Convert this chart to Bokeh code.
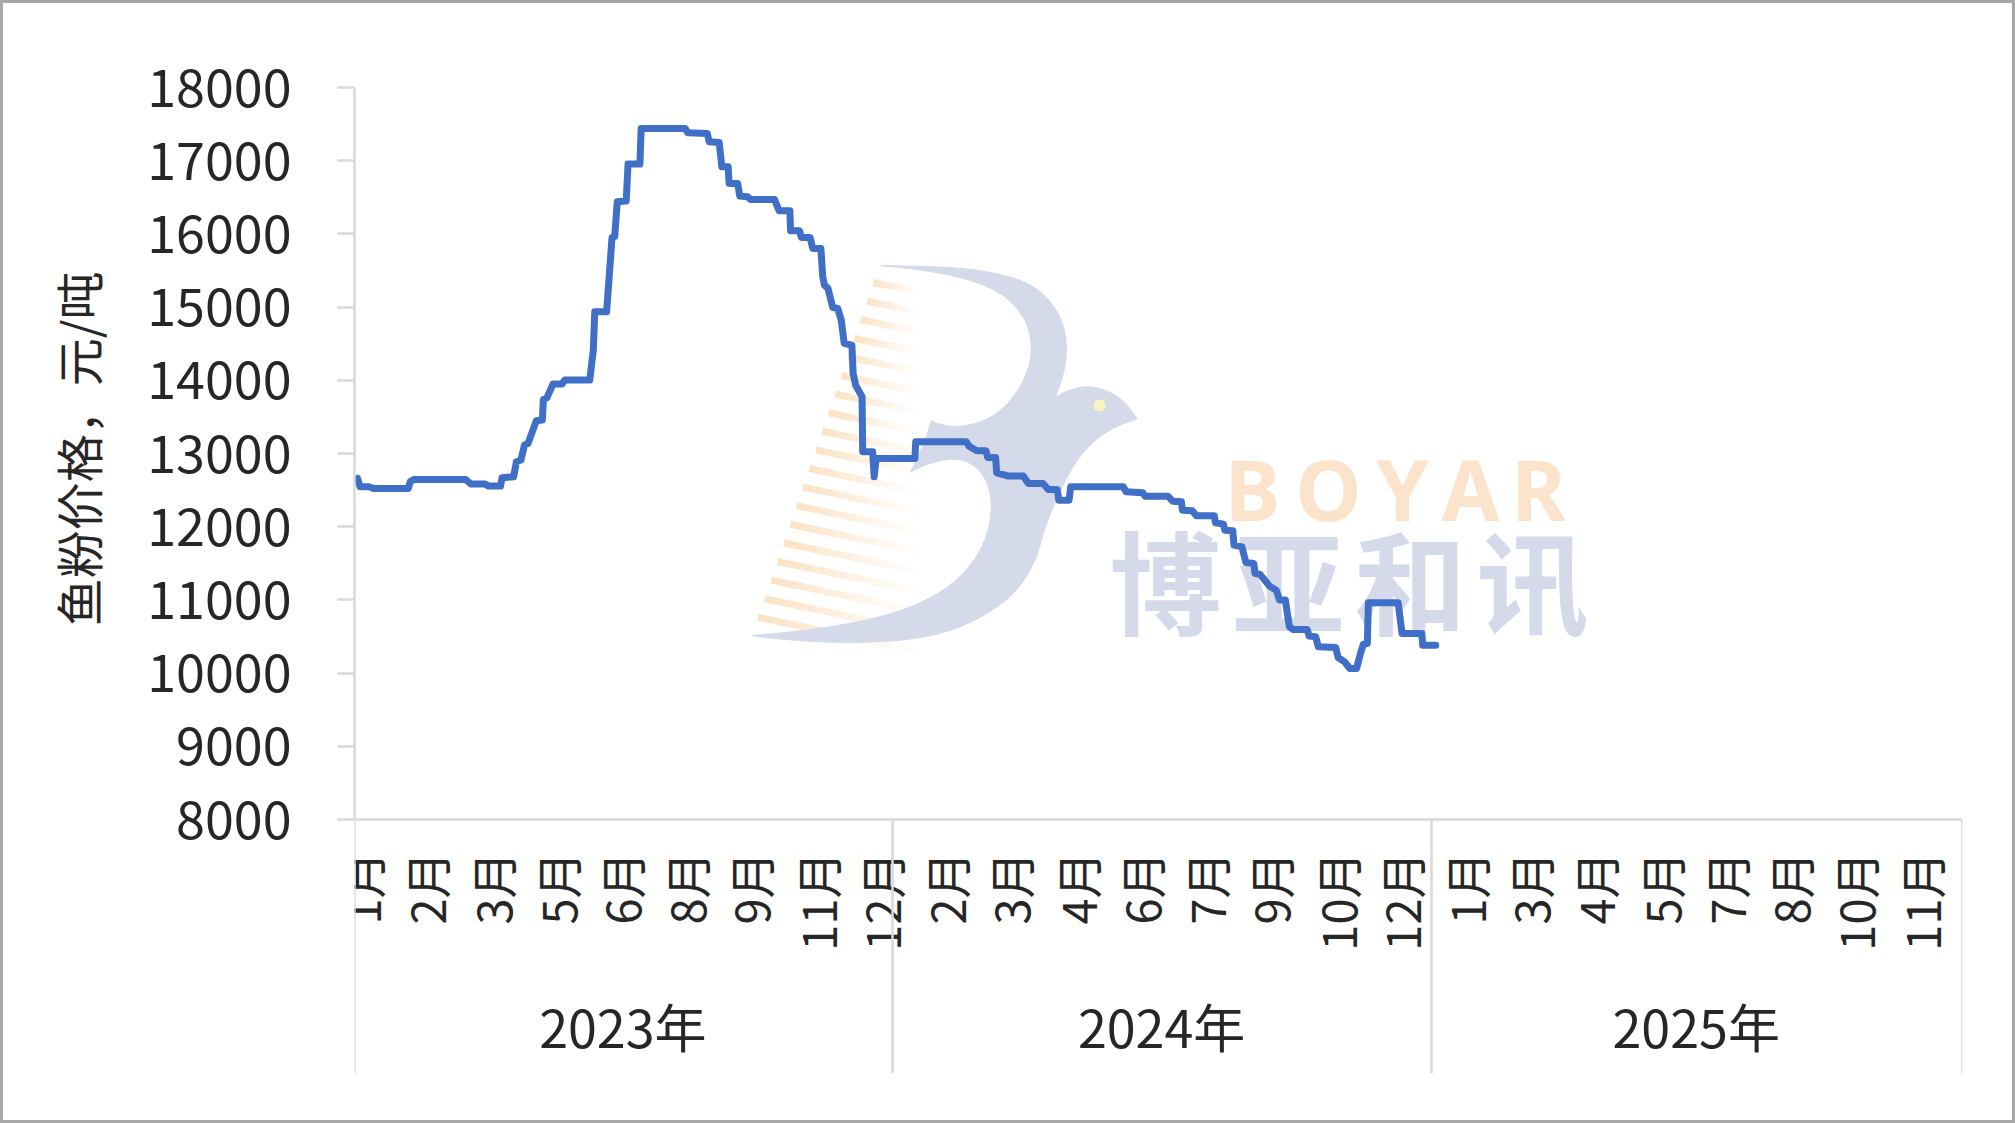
from bokeh.plotting import figure
from bokeh.models import LinearAxis, FixedTicker, Range1d, Title
from bokeh.core.properties import value
from bokeh.embed import file_html
from bokeh.resources import INLINE

day_index = [1.5,2.7,7,9.1,25.9,26.8,28.5,53.4,56,62.8,64.5,70.2,70.9,76.5,77.8,80,81.7,83.4,87.4,90.3,90.8,92.5,95.4,99.7,101.1,113.1,114.8,115.5,121.2,123.8,125.1,126.3,130.6,131.5,137.2,137.8,159,160.2,169.6,170.5,175.3,176.6,179.6,180.1,184.2,185.2,189,190.4,201.9,204.1,209.3,209.6,213.9,214.8,219,220.3,224.2,225.1,225.9,227.6,229.9,232.3,234,235.4,239.1,239.7,240.9,244,244.3,249.1,249.8,250.8,251.7,269.4,269.8,294.1,295.4,299.2,303.6,304.4,308.2,308.7,314.4,321.5,324,331,333.5,337.8,338.6,343.5,344.3,369.6,370.9,379,380,391,393.3,397.5,398,402.8,404.7,413.3,413.9,417.7,418.4,422.2,422.8,426.6,428.5,432.3,432.9,435.2,439.9,443.1,444.7,447.5,449.4,451.3,458,458.9,462.1,463.3,471.7,472.8,476,478.5,481.7,483.6,485,486.9,487.4,501.7,503.6,513.1,513.5,519.8]
price = [12660,12545,12545,12523,12523,12614,12646,12646,12582,12582,12555,12555,12668,12682,12887,12910,13115,13135,13447,13456,13738,13760,13948,13948,14003,14003,14413,14936,14936,15952,15960,16439,16448,16954,16954,17441,17441,17382,17373,17259,17250,16917,16917,16690,16690,16516,16507,16471,16471,16316,16316,16043,16043,15952,15952,15801,15801,15414,15300,15255,14995,14982,14822,14504,14481,14094,13934,13775,13024,13024,12682,12932,12932,12932,13160,13160,13100,13037,13037,12946,12946,12736,12691,12691,12590,12590,12509,12509,12363,12363,12545,12545,12477,12463,12417,12417,12349,12340,12226,12217,12149,12149,12053,12035,11953,11944,11748,11725,11511,11497,11361,11352,11188,11133,10997,10997,10632,10596,10596,10505,10496,10359,10350,10213,10154,10063,10063,10268,10396,10405,10960,10960,10541,10541,10382,10382]
month_pos = [3,34,66,97,128,159,190,222,253,284,315,347,378,409,440,472,503,534,565,596,628,659,690,721,753]
month_labels = ["1月","2月","3月","5月","6月","8月","9月","11月","12月","2月","3月","4月","6月","7月","9月","10月","12月","1月","3月","4月","5月","7月","8月","10月","11月"]
year_pos = [129,388,645]
year_labels = ["2023年","2024年","2025年"]
year_edges = [0,258.6,517.6,773]
y_ticks = [8000,9000,10000,11000,12000,13000,14000,15000,16000,17000,18000]
y_title = "鱼粉价格，元/吨"
FONT = "Noto Sans CJK SC"
TEXT = "#262626"
GRID = "#d9d9d9"
LINE = "#3f6fc6"

# watermark outline, sharp tips marked by runs
bird_runs = [
 [(35,1155),(100,1165),(300,1178),(500,1170),(640,1140),(760,1080),(840,1010),(890,920),(910,840),(950,740),(1000,640),(1060,570),(1120,530),(1190,505)],
 [(1190,505),(1150,450),(1100,420),(1040,405),(980,420),(945,440)],
 [(945,440),(970,370),(980,300),(970,220),(930,150),(870,100),(780,70),(650,50),(420,45)],
 [(420,45),(560,60),(680,85),(770,120),(830,170),(865,230),(875,300),(860,370),(820,440),(770,490),(710,520),(640,530),(590,520),(572,510)],
 [(572,510),(555,570),(510,665)],
 [(510,665),(560,640),(640,622),(700,640),(740,690),(755,760),(745,840),(710,920),(650,990),(560,1050),(440,1095),(300,1125),(150,1145),(35,1155)],
]

def smooth(run, passes=2):
    for _ in range(passes):
        out = [run[0]]
        for (a, b), (c, d) in zip(run[:-1], run[1:]):
            out.append((0.75*a+0.25*c, 0.75*b+0.25*d))
            out.append((0.25*a+0.75*c, 0.25*b+0.75*d))
        out.append(run[-1])
        run = out
    return run

bird_pts = [q for r in bird_runs for q in smooth(r)]
bird_x = [740 + a/3 for a, _ in bird_pts]
bird_y = [250 + b/3 for _, b in bird_pts]

W, H = 2015, 1123
BORDER = 3
L, R, T, B = 354, 1962, 87, 1073
y_low = 8000 - (B - 819) / 0.0732

p = figure(width=W, height=H, output_backend="svg", toolbar_location=None,
           x_range=Range1d(0, 773), y_range=Range1d(y_low, 18000),
           min_border_left=L - BORDER, min_border_right=W - R + BORDER,
           min_border_top=T - BORDER, min_border_bottom=H - B + BORDER,
           background_fill_color="white", border_fill_color="white", outline_line_color=None)
p.styles = {"border": f"{BORDER}px solid #a8a8a8", "box-sizing": "border-box"}
p.grid.visible = False
p.extra_x_ranges["px"] = Range1d(L, R)
p.extra_y_ranges["py"] = Range1d(B, T)

# stripes fading to the right
for i in range(19):
    x0 = 873 - 6.4 * i
    y0 = 282 + 18.6 * i
    n = 12
    span = 917 - x0
    for k in range(n):
        a = x0 + span * k / n
        b = x0 + span * (k + 1) / n
        p.segment(a, y0 + 0.21 * (a - x0), b, y0 + 0.21 * (b - x0), x_range_name="px", y_range_name="py",
                  line_color="#fbdcb8", line_width=7, line_alpha=0.8 * (1 - k / n) ** 1.1)

p.patch(bird_x, bird_y, x_range_name="px", y_range_name="py", fill_color="#d5daea", line_color="#d5daea", line_width=1)
p.scatter([1099], [405], x_range_name="px", y_range_name="py", size=12, fill_color="#f8f4bf", line_color=None)
p.text([1252,1328,1402,1470,1538], [488]*5, text=["B","O","Y","A","R"], x_range_name="px", y_range_name="py",
       text_font=value("Noto Sans"), text_font_style="bold", text_font_size="84px", text_align="center", text_baseline="middle", text_color="#fbe3cc")
p.text([1165,1288,1410,1532], [577]*4, text=["博","亚","和","讯"], x_range_name="px", y_range_name="py",
       text_font=value(FONT), text_font_style="bold", text_font_size="112px", text_align="center", text_baseline="middle", text_color="#d5daea")

p.line(day_index, price, line_color=LINE, line_width=7, line_join="round", line_cap="round")

ya = p.yaxis[0]
ya.bounds = (8000, 18000)
ya.ticker = FixedTicker(ticks=y_ticks)
ya.major_label_text_font = FONT
ya.major_label_text_font_size = "52px"
ya.major_label_text_color = TEXT
ya.major_label_standoff = 46
ya.major_tick_in = 0
ya.major_tick_out = 17
ya.minor_tick_line_color = None
ya.axis_line_color = GRID
ya.axis_line_width = 2.5
ya.major_tick_line_color = GRID
ya.major_tick_line_width = 2.5

p.add_layout(Title(text=y_title, align="right", offset=184, standoff=65, text_font=FONT,
                   text_font_style="normal", text_font_size="48px", text_color=TEXT), "left")

xa = p.xaxis[0]
xa.fixed_location = 8000
xa.ticker = FixedTicker(ticks=month_pos)
xa.major_label_overrides = dict(zip(month_pos, month_labels))
xa.major_label_orientation = 1.5708
xa.major_label_text_font = FONT
xa.major_label_text_font_size = "47px"
xa.major_label_text_color = TEXT
xa.major_label_standoff = 26
xa.major_tick_line_color = None
xa.minor_tick_line_color = None
xa.axis_line_color = GRID
xa.axis_line_width = 2.5

sep = LinearAxis(fixed_location=8000, ticker=FixedTicker(ticks=year_edges))
sep.major_tick_in = 0
sep.major_tick_out = 254
sep.major_tick_line_color = GRID
sep.major_tick_line_width = 2.5
sep.minor_tick_line_color = None
sep.axis_line_color = None
sep.major_label_text_color = None
sep.major_label_text_font_size = "1px"
p.add_layout(sep, "below")

ye = LinearAxis(fixed_location=8000, ticker=FixedTicker(ticks=year_pos))
ye.major_label_overrides = dict(zip(year_pos, year_labels))
ye.major_label_text_font = FONT
ye.major_label_text_font_size = "52px"
ye.major_label_text_color = TEXT
ye.major_label_standoff = 162
ye.major_tick_line_color = None
ye.minor_tick_line_color = None
ye.axis_line_color = None
p.add_layout(ye, "below")

open("out.html", "w").write(file_html(p, INLINE))
